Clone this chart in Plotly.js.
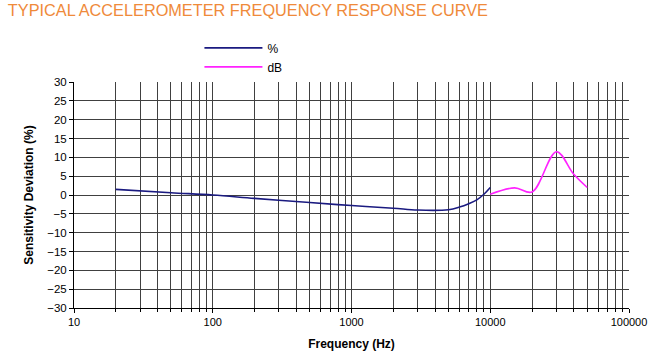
<!DOCTYPE html>
<html>
<head>
<meta charset="utf-8">
<script src="https://cdn.plot.ly/plotly-3.0.1.min.js"></script>
<style>html,body{margin:0;padding:0;background:#fff;}#chart{width:656px;height:357px;}</style>
</head>
<body>
<div id="chart"></div>
<script>
// % series (Hz, sensitivity deviation %)
const pctFreq  = [20, 50, 100, 200, 500, 1000, 2000, 3000, 5000, 6000, 7000, 8000, 9000, 10000];
const pctValue = [1.5, 0.6, 0.0, -0.9, -2.0, -2.8, -3.5, -4.0, -3.9, -3.2, -2.3, -1.3, 0.2, 2.0];
// dB series
const dbFreq  = [10000, 15000, 20000, 30000, 40000, 50000];
const dbValue = [0.2, 1.9, 0.8, 11.5, 5.5, 2.0];
// axis ticks
const xTickVals = [10, 100, 1000, 10000, 100000];
const xTickText = ["10", "100", "1000", "10000", "100000"];
const seriesNames = ["%", "dB"];

const font = "Liberation Sans, Arial, sans-serif";
const grid = "#404040";

const traces = [
  {x: pctFreq, y: pctValue, name: seriesNames[0], type: "scatter", mode: "lines",
   line: {color: "#1a1a80", width: 1.6, shape: "spline", smoothing: 1}},
  {x: dbFreq, y: dbValue, name: seriesNames[1], type: "scatter", mode: "lines",
   line: {color: "#ff22ff", width: 1.6, shape: "spline", smoothing: 1}}
];

const layout = {
  width: 656, height: 357,
  margin: {l: 74, r: 27, t: 82, b: 49},
  paper_bgcolor: "#fff", plot_bgcolor: "#fff",
  font: {family: font, size: 11, color: "#000"},
  title: {text: "TYPICAL ACCELEROMETER FREQUENCY RESPONSE CURVE",
          font: {family: font, size: 16.3, color: "#ef8a3a"},
          x: 0.012, xanchor: "left", xref: "container", y: 0.972, yanchor: "middle", yref: "container"},
  showlegend: true,
  legend: {x: 0.226, y: 1.215, xanchor: "left", yanchor: "top", bgcolor: "rgba(0,0,0,0)",
           font: {family: font, size: 12, color: "#000"}, itemwidth: 58, tracegroupgap: 0},
  xaxis: {type: "log", range: [1, 5], tickvals: xTickVals, ticktext: xTickText,
          showgrid: true, gridcolor: grid, gridwidth: 1,
          ticks: "outside", ticklen: 4, tickcolor: "#000",
          minor: {dtick: "D1", showgrid: true, gridcolor: grid, gridwidth: 1, ticks: "outside", ticklen: 3, tickcolor: "#000"},
          showline: true, linecolor: "#000", linewidth: 1,
          tickfont: {family: font, size: 11},
          zeroline: false,
          title: {text: "<b>Frequency (Hz)</b>", font: {family: font, size: 12}, standoff: 12}},
  yaxis: {range: [-30, 30], dtick: 5, showgrid: true, gridcolor: grid, gridwidth: 1,
          ticks: "outside", ticklen: 4, tickcolor: "#000",
          showline: true, linecolor: "#000", linewidth: 1, zeroline: false,
          tickfont: {family: font, size: 11.5},
          title: {text: "<b>Sensitivity Deviation (%)</b>", font: {family: font, size: 12}, standoff: 10}}
};

Plotly.newPlot("chart", traces, layout, {displayModeBar: false, staticPlot: true});
</script>
</body>
</html>
